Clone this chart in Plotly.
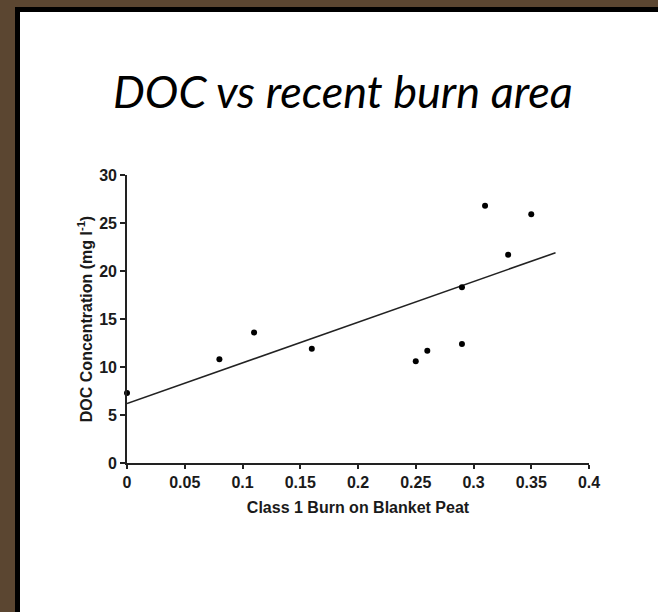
import plotly.graph_objects as go

# Data
burn_fraction = [0.0, 0.08, 0.11, 0.16, 0.25, 0.26, 0.29, 0.29, 0.31, 0.33, 0.35]
doc_conc = [7.3, 10.8, 13.6, 11.9, 10.6, 11.7, 12.4, 18.3, 26.8, 21.7, 25.9]
fit_x = [0.0, 0.371]
fit_y = [6.2, 21.9]
x_ticks = [0, 0.05, 0.1, 0.15, 0.2, 0.25, 0.3, 0.35, 0.4]
x_tick_labels = ["0", "0.05", "0.1", "0.15", "0.2", "0.25", "0.3", "0.35", "0.4"]
y_ticks = [0, 5, 10, 15, 20, 25, 30]

W, H = 658, 612
L, R = 127, 589   # pixel positions of x=0 and x=0.4
T, B = 175, 463   # pixel positions of y=30 and y=0


def px(xp):
    return (xp - L) / (R - L)


def py(yp):
    return (B - yp) / (B - T)


fig = go.Figure()
fig.add_trace(go.Scatter(x=fit_x, y=fit_y, mode="lines",
                         line=dict(color="#222222", width=1.6),
                         cliponaxis=False, showlegend=False, hoverinfo="skip"))
fig.add_trace(go.Scatter(x=burn_fraction, y=doc_conc, mode="markers",
                         marker=dict(color="#000000", size=6),
                         cliponaxis=False, showlegend=False))

BROWN = "#5b4631"
shapes = [
    # brown frame: left and top
    dict(type="rect", xref="paper", yref="paper", x0=px(0), x1=px(15), y0=py(H), y1=py(0),
         fillcolor=BROWN, line=dict(width=0), layer="below"),
    dict(type="rect", xref="paper", yref="paper", x0=px(0), x1=px(W), y0=py(7), y1=py(0),
         fillcolor=BROWN, line=dict(width=0), layer="below"),
    # black border: left and top
    dict(type="rect", xref="paper", yref="paper", x0=px(15), x1=px(20), y0=py(H), y1=py(7),
         fillcolor="#000000", line=dict(width=0), layer="below"),
    dict(type="rect", xref="paper", yref="paper", x0=px(15), x1=px(W), y0=py(12), y1=py(7),
         fillcolor="#000000", line=dict(width=0), layer="below"),
]

tick_font = dict(family="Liberation Sans, Arial, sans-serif", size=16, color="#1a1a1a", weight="bold")
title_font = dict(family="Liberation Sans, Arial, sans-serif", size=16, color="#1a1a1a")

fig.update_layout(
    width=W, height=H,
    margin=dict(l=L, r=W - R, t=T, b=H - B, pad=0),
    paper_bgcolor="#ffffff",
    plot_bgcolor="rgba(0,0,0,0)",
    shapes=shapes,
    showlegend=False,
    annotations=[
        dict(text="<i>DOC vs recent burn area</i>", xref="paper", yref="paper",
             x=px(343), y=py(91), xanchor="center", yanchor="middle", showarrow=False,
             font=dict(family="Lato, Open Sans, sans-serif", size=45, color="#000000")),
    ],
    xaxis=dict(
        range=[0, 0.4], tickvals=x_ticks, ticktext=x_tick_labels,
        showgrid=False, zeroline=False, showline=True, linecolor="#222222", linewidth=1.6,
        ticks="outside", ticklen=4, tickwidth=1.6, tickcolor="#222222",
        tickfont=tick_font,
        title=dict(text="<b>Class 1 Burn on Blanket Peat</b>", standoff=12, font=title_font),
    ),
    yaxis=dict(
        range=[0, 30], tickvals=y_ticks,
        showgrid=False, zeroline=False, showline=True, linecolor="#222222", linewidth=1.6,
        ticks="outside", ticklen=5, tickwidth=1.6, tickcolor="#222222",
        tickfont=tick_font,
        title=dict(text="<b>DOC Concentration (mg l<sup>-1</sup>)</b>", standoff=3, font=title_font),
    ),
)

fig.write_html("out.html")
